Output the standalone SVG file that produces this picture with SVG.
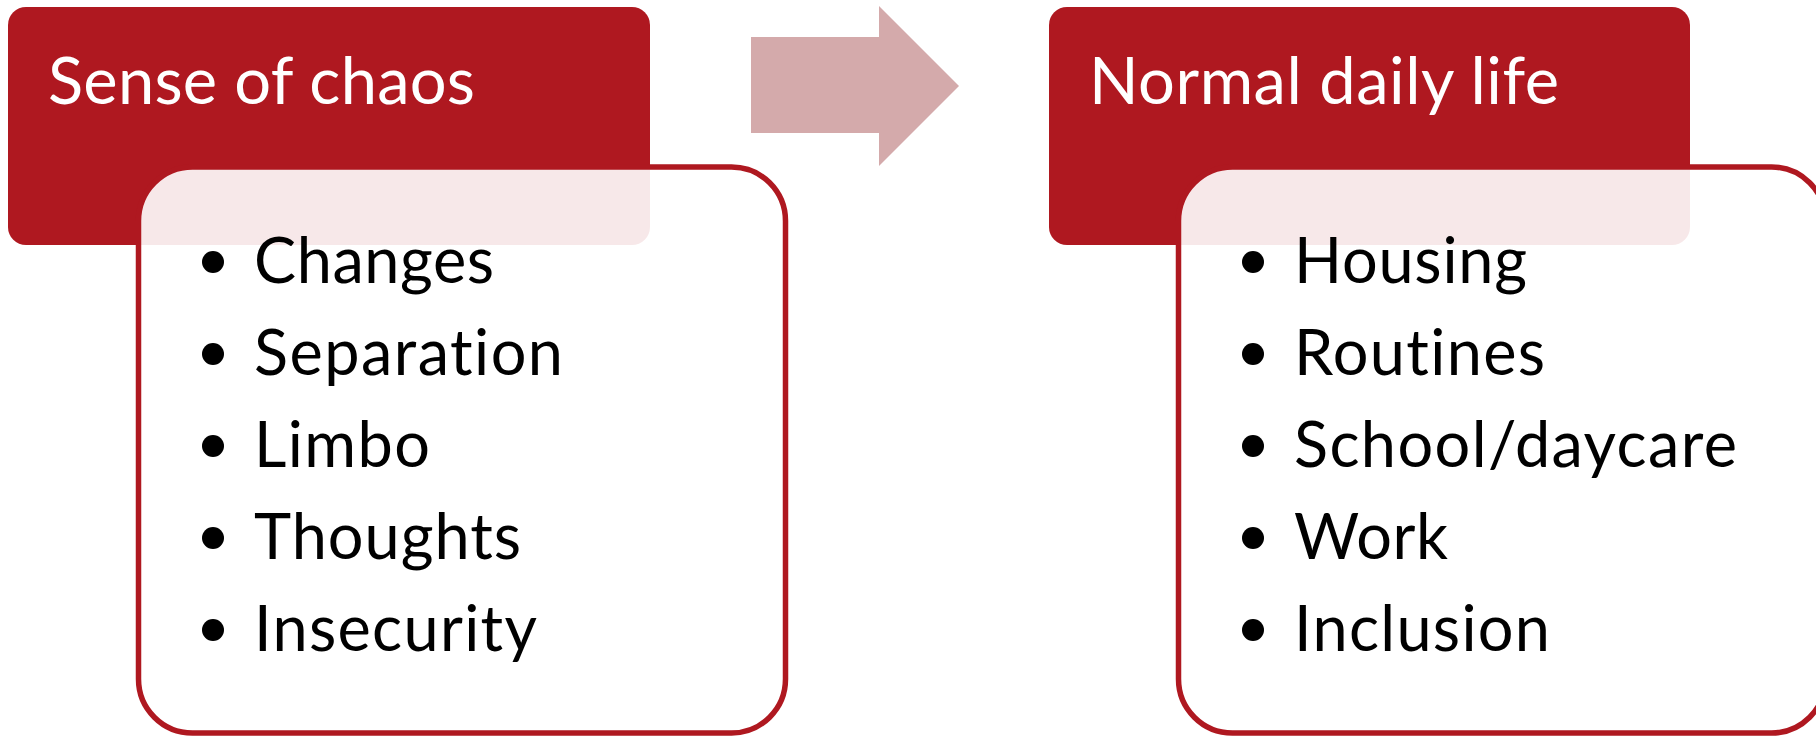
<svg xmlns="http://www.w3.org/2000/svg" width="1816" height="736" viewBox="0 0 1816 736">
<style>
.hdr{fill:#AF1820}
.box{fill:#FFFFFF;fill-opacity:0.9;stroke:#AF1820;stroke-width:5.5}
.ttl{font-family:Lato,"Liberation Sans",sans-serif;font-size:65px;fill:#FFFFFF;font-variant-ligatures:none}
.itm{font-family:Lato,"Liberation Sans",sans-serif;font-size:63px;fill:#000000;font-variant-ligatures:none}
.dot{fill:#000000}
.arr{fill:#D4AAAB}
</style>
<rect width="1816" height="736" fill="#FFFFFF"/>
<g id="connectors">
<polygon class="arr" points="751,37 879,37 879,6 959,86 879,166 879,133 751,133"/>
</g>
<g id="node-left">
<rect class="hdr" x="8" y="7" width="642" height="238" rx="18"/>
<text class="ttl" x="48" y="104" textLength="427" lengthAdjust="spacing">Sense of chaos</text>
<rect class="box" x="138.5" y="167" width="647" height="566" rx="54"/>
<circle class="dot" cx="213" cy="262" r="11"/>
<text class="itm" x="254" y="283" textLength="240" lengthAdjust="spacing">Changes</text>
<circle class="dot" cx="213" cy="354" r="11"/>
<text class="itm" x="254" y="375" textLength="309" lengthAdjust="spacing">Separation</text>
<circle class="dot" cx="213" cy="446" r="11"/>
<text class="itm" x="254" y="467" textLength="176" lengthAdjust="spacing">Limbo</text>
<circle class="dot" cx="213" cy="538" r="11"/>
<text class="itm" x="254" y="559" textLength="267" lengthAdjust="spacing">Thoughts</text>
<circle class="dot" cx="213" cy="630" r="11"/>
<text class="itm" x="254" y="651" textLength="283" lengthAdjust="spacing">Insecurity</text>
</g>
<g id="node-right">
<rect class="hdr" x="1049" y="7" width="641" height="238" rx="18"/>
<text class="ttl" x="1089" y="104" textLength="470" lengthAdjust="spacing">Normal daily life</text>
<rect class="box" x="1178.5" y="167" width="647" height="566" rx="54"/>
<circle class="dot" cx="1253" cy="262" r="11"/>
<text class="itm" x="1294" y="283" textLength="233" lengthAdjust="spacing">Housing</text>
<circle class="dot" cx="1253" cy="354" r="11"/>
<text class="itm" x="1294" y="375" textLength="251" lengthAdjust="spacing">Routines</text>
<circle class="dot" cx="1253" cy="446" r="11"/>
<text class="itm" x="1294" y="467" textLength="443" lengthAdjust="spacing">School/daycare</text>
<circle class="dot" cx="1253" cy="538" r="11"/>
<text class="itm" x="1294" y="559" textLength="154" lengthAdjust="spacing">Work</text>
<circle class="dot" cx="1253" cy="630" r="11"/>
<text class="itm" x="1294" y="651" textLength="256" lengthAdjust="spacing">Inclusion</text>
</g>
</svg>
